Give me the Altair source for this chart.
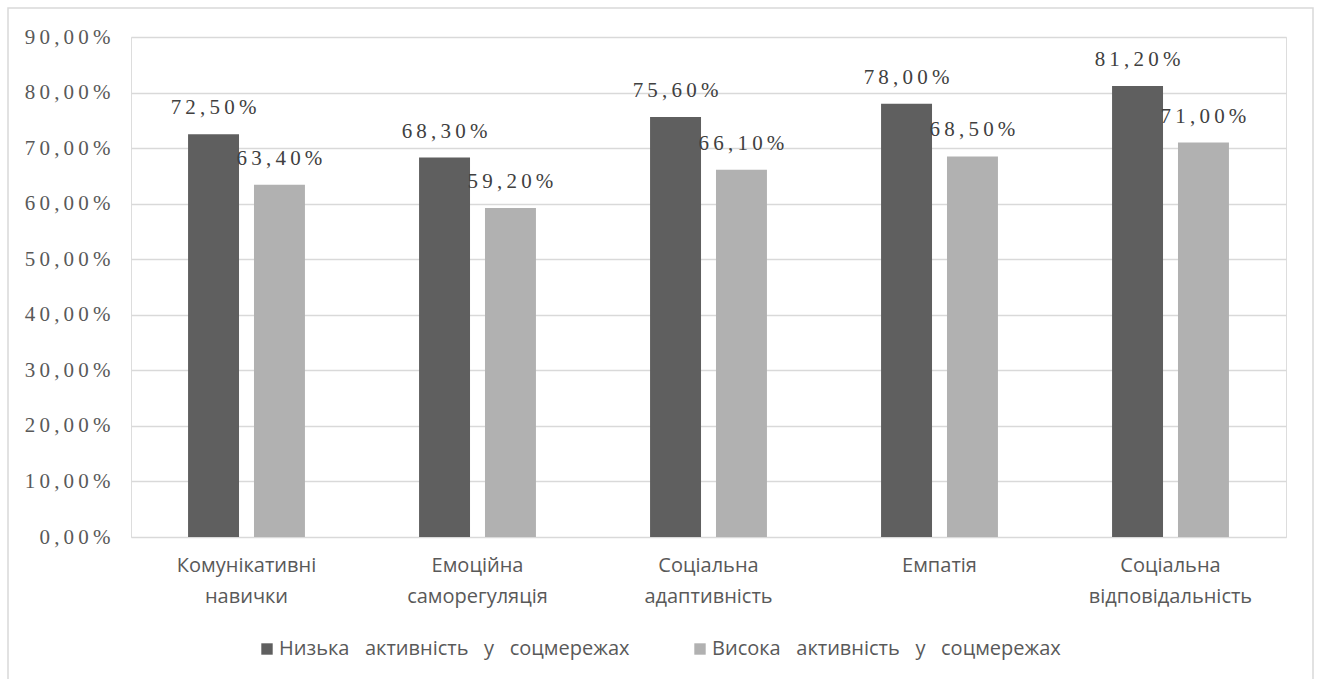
import altair as alt
import pandas as pd

categories = ["Комунікативні навички", "Емоційна саморегуляція", "Соціальна адаптивність",
              "Емпатія", "Соціальна відповідальність"]
series = ["Низька активність у соцмережах", "Висока активність у соцмережах"]
low_values = [72.5, 68.3, 75.6, 78.0, 81.2]
high_values = [63.4, 59.2, 66.1, 68.5, 71.0]
y_ticks = [0, 10, 20, 30, 40, 50, 60, 70, 80, 90]
y_tick_labels = ["0,00%", "10,00%", "20,00%", "30,00%", "40,00%", "50,00%",
                 "60,00%", "70,00%", "80,00%", "90,00%"]

TS = "\u2009"
NB = "\u00a0\u00a0\u00a0"


def spaced(s):
    return TS.join(list(s))


def pct_label(v):
    return spaced(f"{v:.2f}".replace(".", ",") + "%")


series_labels = {s: s.replace(" ", NB) for s in series}

rows = []
for c, lo, hi in zip(categories, low_values, high_values):
    rows.append({"category": c, "series": series_labels[series[0]], "value": lo, "label": pct_label(lo)})
    rows.append({"category": c, "series": series_labels[series[1]], "value": hi, "label": pct_label(hi)})
df = pd.DataFrame(rows)
series_order = [series_labels[s] for s in series]

label_expr = "[" + ",".join('"' + spaced(t) + '"' for t in y_tick_labels) + "][round(datum.value/10)]"

x_enc = alt.X("category:N", sort=categories,
              scale=alt.Scale(paddingInner=0.494, paddingOuter=0.247),
              axis=alt.Axis(title=None, labelAngle=0, domain=False, ticks=False,
                            labelExpr="split(datum.label, ' ')", labelLineHeight=31,
                            labelPadding=18, labelFont="Open Sans", labelFontSize=20,
                            labelColor="#595959", labelBaseline="top", labelLimit=0))
xoff_enc = alt.XOffset("series:N", sort=series_order,
                       scale=alt.Scale(paddingInner=0.227, paddingOuter=0))
y_enc = alt.Y("value:Q", scale=alt.Scale(domain=[0, 90], nice=False),
              axis=alt.Axis(title=None, values=y_ticks, labelExpr=label_expr,
                            domain=False, ticks=False, labelPadding=21,
                            labelFont="Liberation Serif", labelFontSize=21,
                            labelColor="#595959", gridColor="#d9d9d9", gridWidth=1.3))

base = alt.Chart(df)

bars = base.mark_bar().encode(
    x=x_enc, xOffset=xoff_enc, y=y_enc,
    color=alt.Color("series:N", sort=series_order,
                    scale=alt.Scale(domain=series_order, range=["#5f5f5f", "#b1b1b1"]),
                    legend=alt.Legend(title=None, orient="none", direction="horizontal",
                                      legendX=126, legendY=602, symbolType="square",
                                      symbolSize=130, symbolStrokeWidth=0,
                                      labelFont="Open Sans", labelFontSize=20,
                                      labelColor="#595959", labelOffset=2,
                                      labelLimit=0, columnPadding=60, padding=0)),
)

texts = base.mark_text(baseline="alphabetic", dy=-20, font="Liberation Serif",
                       fontSize=21, color="#404040").encode(
    x=alt.X("category:N", sort=categories), xOffset=alt.XOffset("series:N", sort=series_order),
    y="value:Q", text="label:N")

border = alt.Chart(pd.DataFrame({"a": [0]})).mark_rect(
    fill=None, stroke="#d9d9d9", strokeWidth=1.5).encode(
    x=alt.value(-123), x2=alt.value(1182), y=alt.value(-29), y2=alt.value(700))

chart = alt.layer(border, bars, texts).properties(
    width=1155, height=500,
    autosize=alt.AutoSizeParams(type="none"),
    padding={"left": 131, "top": 37, "right": 34, "bottom": 142},
).configure_view(stroke=None).configure(background="white")

chart.save("out.html", embed_options={"renderer": "svg", "actions": False})
